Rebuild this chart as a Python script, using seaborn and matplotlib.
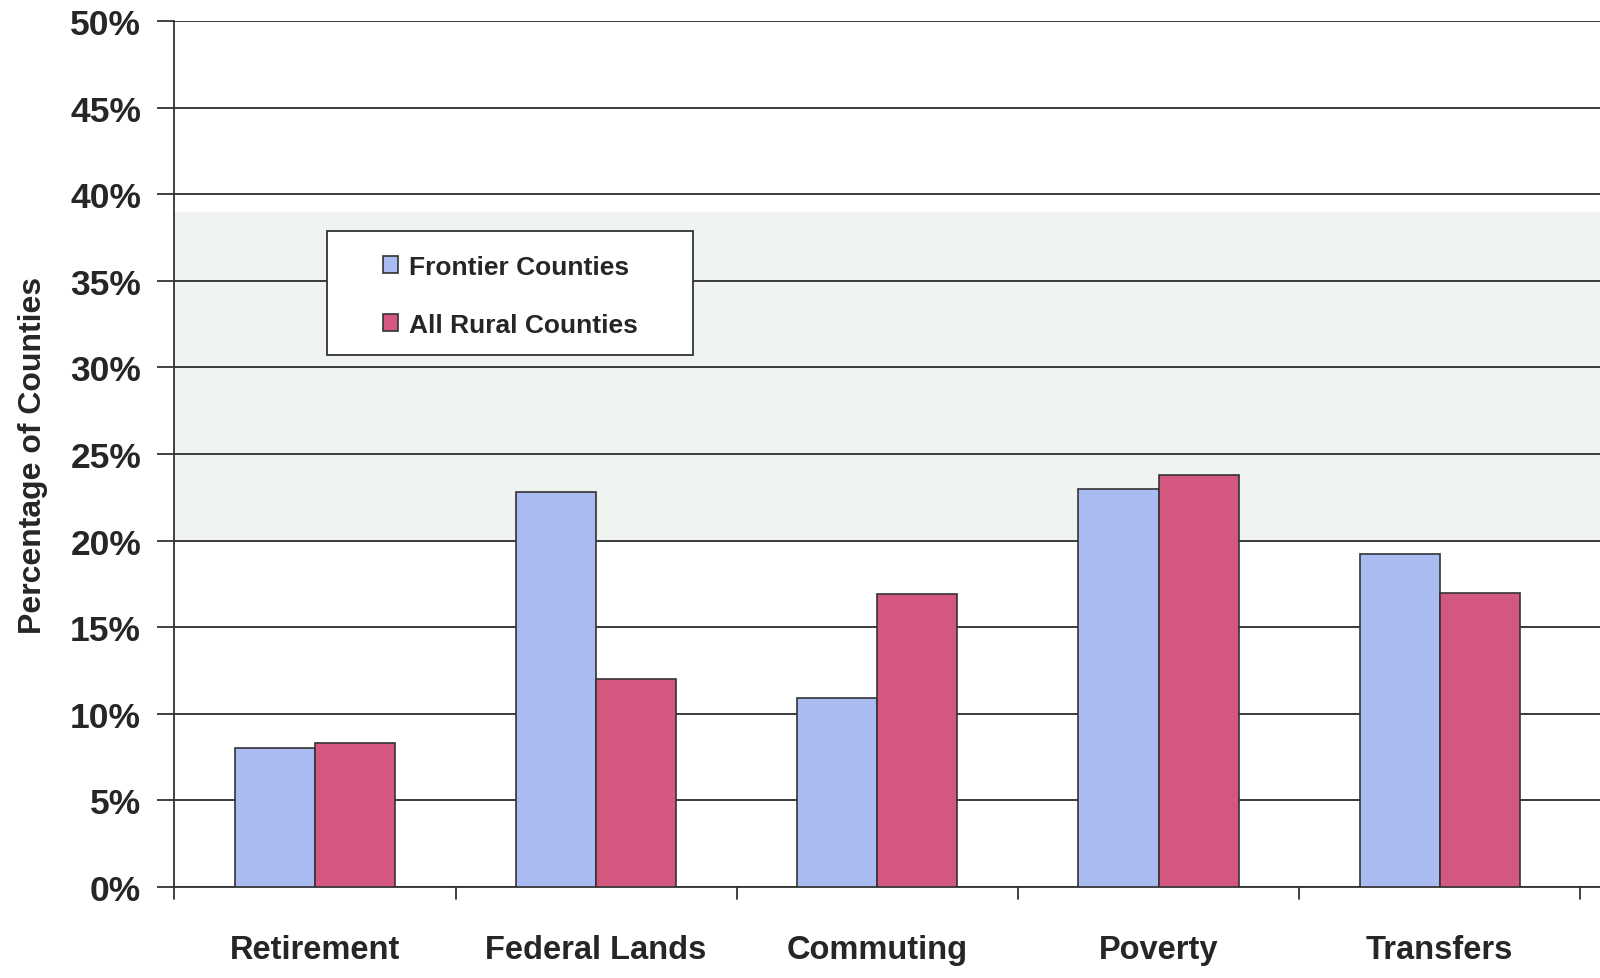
import pandas as pd
import matplotlib.pyplot as plt
import matplotlib.patches as mpatches
import seaborn as sb

# data (percent of counties)
categories = ['Retirement', 'Federal Lands', 'Commuting', 'Poverty', 'Transfers']
frontier = [8.0, 22.8, 10.9, 23.0, 19.2]
all_rural = [8.3, 12.0, 16.9, 23.8, 17.0]
yticks = [0, 5, 10, 15, 20, 25, 30, 35, 40, 45, 50]

df = pd.DataFrame({
    'Category': categories * 2,
    'Value': frontier + all_rural,
    'Series': ['Frontier Counties'] * 5 + ['All Rural Counties'] * 5,
})

sb.set_style('white')
plt.rcParams['font.family'] = ['Liberation Sans', 'DejaVu Sans']

fig = plt.figure(figsize=(16, 9.79), dpi=100)
ax = fig.add_axes([0.109, 0.093, 0.891, 0.8845])

# faint tint of the scanned page
ax.axhspan(20, 39, color='#f0f4f1', zorder=0, lw=0)

ax = sb.barplot(data=df, x='Category', y='Value', hue='Series',
                palette={'Frontier Counties': '#a9bbf0', 'All Rural Counties': '#d4577f'},
                width=0.57, gap=0, edgecolor='#333333', linewidth=1.2,
                saturation=1, ax=ax, zorder=3)

ax.set_ylim(0, 50)
ax.set_xlim(-0.5, 4.57)
ax.set_yticks(yticks)
ax.set_yticklabels([f'{v}%' for v in yticks])
ax.yaxis.grid(True, color='#3a3a3a', linewidth=1.4)
ax.set_axisbelow(True)

for i in range(6):
    ax.plot([i - 0.5, i - 0.5], [0, -0.7], color='#333333', lw=1.3, clip_on=False)
ax.tick_params(axis='x', length=0, pad=34, labelsize=23.5)
ax.tick_params(axis='y', length=12, width=1.3, color='#333333', pad=12, labelsize=25.5, left=True)
for lab in ax.get_xticklabels() + ax.get_yticklabels():
    lab.set_fontweight('bold')

ax.set_xlabel('')
ax.set_ylabel('Percentage of Counties', fontsize=23, fontweight='bold', labelpad=16)

sb.despine(ax=ax, top=True, right=True)
ax.spines['left'].set_color('#333333')
ax.spines['bottom'].set_color('#333333')
ax.spines['left'].set_linewidth(1.3)
ax.spines['bottom'].set_linewidth(1.3)

# legend with a wide white box
handles, labels = ax.get_legend_handles_labels()
ax.get_legend().remove()
box = mpatches.Rectangle((0.1067, 0.614), 0.2568, 0.1435, transform=ax.transAxes,
                         facecolor='white', edgecolor='#333333', lw=1.3, zorder=5)
ax.add_patch(box)
leg = ax.legend(handles, labels, loc='upper left', bbox_to_anchor=(0.146, 0.73),
                frameon=False, fontsize=19, handlelength=0.6, handleheight=0.6,
                handletextpad=0.4, labelspacing=1.3, borderaxespad=0, borderpad=0)
leg.set_zorder(6)
for t in leg.get_texts():
    t.set_fontweight('bold')

plt.savefig('out.png', dpi=100)
